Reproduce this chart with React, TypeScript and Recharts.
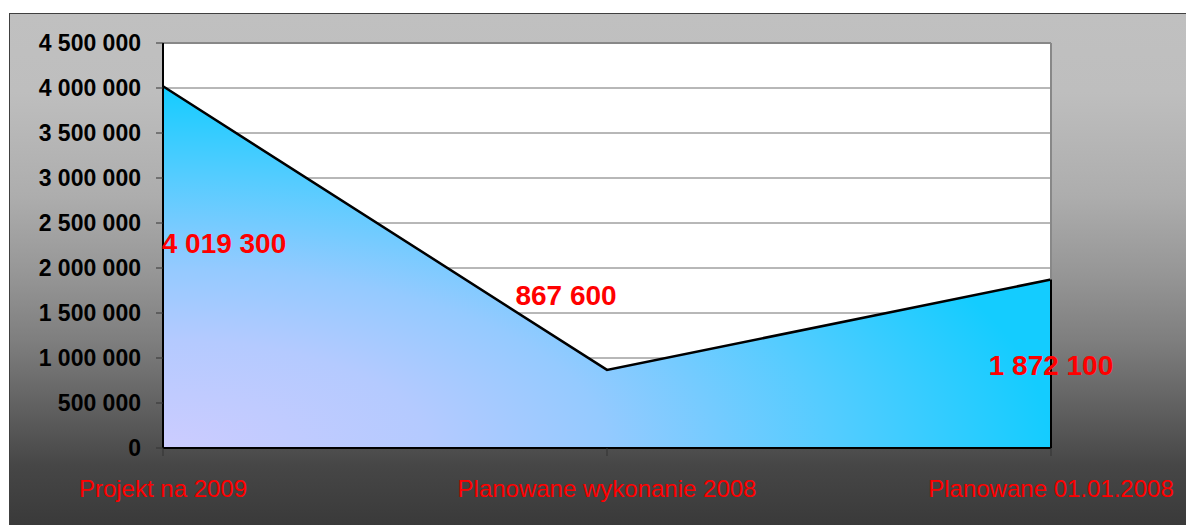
import React from 'react';
import {
  AreaChart,
  Area,
  XAxis,
  YAxis,
  CartesianGrid,
  ReferenceLine,
  LabelList,
} from 'recharts';

// ---- data ----
const categories = ['Projekt na 2009', 'Planowane wykonanie 2008', 'Planowane 01.01.2008'];
const values = [4019300, 867600, 1872100];
const yTicks = [0, 500000, 1000000, 1500000, 2000000, 2500000, 3000000, 3500000, 4000000, 4500000];

const data = categories.map((name, i) => ({ name, value: values[i] }));

// ---- styling ----
const FONT = "'Liberation Sans', Arial, Helvetica, sans-serif";
const LABEL_OFFSETS = [
  { dx: 61, dy: 167 },
  { dx: -41, dy: -65 },
  { dx: 0, dy: 95 },
];

const fmt = (v: number) => String(v).replace(/\B(?=(\d{3})+(?!\d))/g, ' ');

const YTick = (props: any) => {
  const { x, y, payload } = props;
  return (
    <text x={x} y={y} dy={8.2} textAnchor="end" fill="#000" fontSize={23} fontWeight="bold" fontFamily={FONT}>
      {fmt(payload.value)}
    </text>
  );
};

const XTick = (props: any) => {
  const { x, y, payload } = props;
  return (
    <text x={x} y={y} dy={18.5} textAnchor="middle" fill="#ff0000" fontSize={24} fontFamily={FONT}>
      {payload.value}
    </text>
  );
};

const ValueLabel = (props: any) => {
  const { x, y, value, index } = props;
  const off = LABEL_OFFSETS[index] || { dx: 0, dy: 0 };
  return (
    <text
      x={Number(x) + off.dx}
      y={Number(y) + off.dy}
      textAnchor="middle"
      fill="#ff0000"
      fontSize={28}
      fontWeight="bold"
      fontFamily={FONT}
    >
      {fmt(Number(value))}
    </text>
  );
};

export default function App() {
  const last = categories[categories.length - 1];
  const lastVal = values[values.length - 1];
  return (
    <div style={{ position: 'absolute', left: 0, top: 0, width: 1186, height: 525, overflow: 'hidden', background: '#fff' }}>
      <div
        style={{
          position: 'absolute',
          left: 9,
          top: 13,
          width: 1200,
          height: 520,
          borderLeft: '1px solid #404040',
          borderTop: '1px solid #404040',
          background:
            'linear-gradient(to bottom, #c0c0c0 0%, #bebebe 15%, #adadad 35%, #969696 50%, #7e7e7e 63%, #626262 75%, #464646 87%, #383838 100%)',
        }}
      />
      <div style={{ position: 'absolute', left: 0, top: 0 }}>
        <AreaChart width={1186} height={525} data={data} margin={{ top: 43, right: 135, bottom: 0, left: 0 }}>
          <defs>
            <radialGradient id="areaGrad" cx="0" cy="1" r="1" fx="0" fy="1">
              <stop offset="0" stopColor="#ccccff" />
              <stop offset="0.3" stopColor="#b4caff" />
              <stop offset="0.5" stopColor="#94caff" />
              <stop offset="0.75" stopColor="#55ccff" />
              <stop offset="1" stopColor="#14ccff" />
            </radialGradient>
          </defs>
          <CartesianGrid vertical={false} stroke="#707070" strokeWidth={1} fill="#ffffff" fillOpacity={1} />
          <ReferenceLine y={yTicks[yTicks.length - 1]} stroke="#888888" strokeWidth={2} />
          <ReferenceLine x={last} stroke="#888888" strokeWidth={2} />
          <Area
            type="linear"
            dataKey="value"
            stroke="#000"
            strokeWidth={2.5}
            fill="url(#areaGrad)"
            fillOpacity={1}
            isAnimationActive={false}
            dot={false}
            activeDot={false}
          >
            <LabelList dataKey="value" content={<ValueLabel />} />
          </Area>
          <ReferenceLine
            segment={[
              { x: last, y: 0 },
              { x: last, y: lastVal },
            ]}
            stroke="#000"
            strokeWidth={2}
          />
          <XAxis
            dataKey="name"
            height={77}
            interval={0}
            tickSize={8}
            tickMargin={22}
            axisLine={{ stroke: '#000', strokeWidth: 2 }}
            tickLine={{ stroke: '#333', strokeWidth: 1 }}
            tick={<XTick />}
          />
          <YAxis
            width={163}
            domain={[0, 4500000]}
            ticks={yTicks}
            interval={0}
            tickSize={7}
            tickMargin={15}
            axisLine={{ stroke: '#000', strokeWidth: 2 }}
            tickLine={{ stroke: '#333', strokeWidth: 1 }}
            tick={<YTick />}
          />
        </AreaChart>
      </div>
    </div>
  );
}
